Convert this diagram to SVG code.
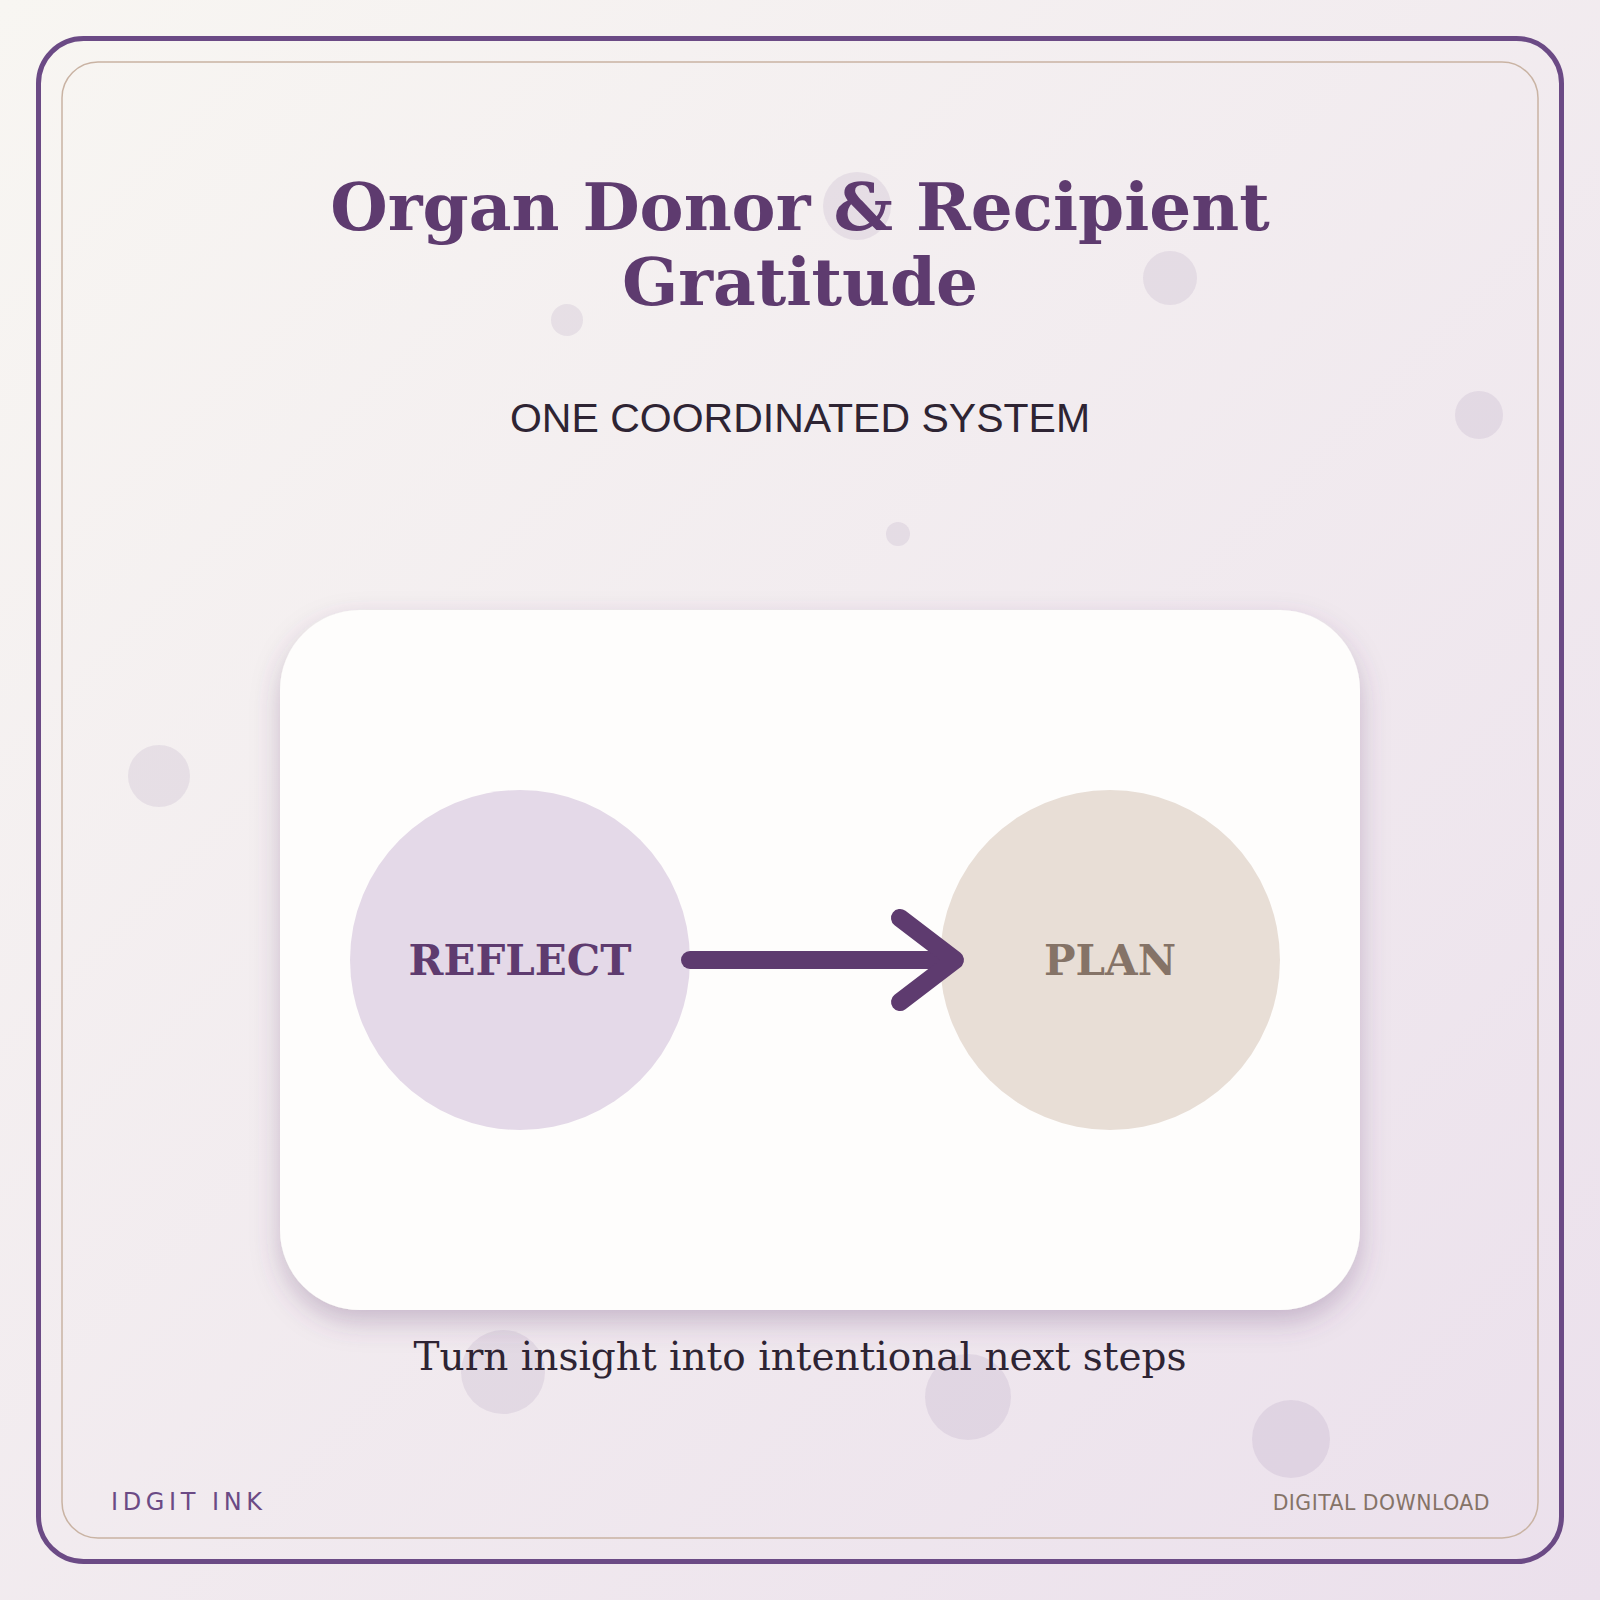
<svg xmlns="http://www.w3.org/2000/svg" width="1600" height="1600" viewBox="0 0 1600 1600">
  <defs>
    <linearGradient id="bg" x1="0" y1="0" x2="1" y2="1">
      <stop offset="0" stop-color="#f8f6f2"/>
      <stop offset="1" stop-color="#ebe0ec"/>
    </linearGradient>
    <filter id="shadow" x="-10%" y="-10%" width="120%" height="130%">
      <feDropShadow dx="0" dy="12" stdDeviation="14" flood-color="#5e3b6f" flood-opacity="0.28"/>
    </filter>
    <style>
      .dot { fill: #6b4a85; fill-opacity: 0.1; }
      .title { font-family: "DejaVu Serif", serif; font-weight: bold; font-size: 66px; fill: #5e3b6f; text-anchor: middle; }
      .sub { font-family: "Liberation Sans", Arial, sans-serif; font-size: 41px; fill: #2e2433; text-anchor: middle; }
      .node-label { font-family: "DejaVu Serif", serif; font-weight: bold; font-size: 42px; text-anchor: middle; }
      .caption { font-family: "DejaVu Serif", serif; font-size: 39px; fill: #2e2433; text-anchor: middle; }
      .foot { font-family: "DejaVu Sans", sans-serif; }
    </style>
  </defs>

  <rect x="0" y="0" width="1600" height="1600" fill="url(#bg)"/>

  <g id="decor">
    <circle class="dot" cx="857" cy="206" r="34"/>
    <circle class="dot" cx="1170" cy="278" r="27"/>
    <circle class="dot" cx="567" cy="320" r="16"/>
    <circle class="dot" cx="1479" cy="415" r="24"/>
    <circle class="dot" cx="898" cy="534" r="12"/>
    <circle class="dot" cx="159" cy="776" r="31"/>
    <circle class="dot" cx="503" cy="1372" r="42"/>
    <circle class="dot" cx="968" cy="1397" r="43"/>
    <circle class="dot" cx="1291" cy="1439" r="39"/>
  </g>

  <g id="frame">
    <rect x="38.5" y="38.5" width="1523" height="1523" rx="45" fill="none" stroke="#6b4a85" stroke-width="5"/>
    <rect x="62" y="62" width="1476" height="1476" rx="36" fill="none" stroke="#c9b3a3" stroke-width="1.5"/>
  </g>

  <g id="title">
    <text class="title" x="800" y="230">Organ Donor &amp; Recipient</text>
    <text class="title" x="800" y="305">Gratitude</text>
    <text class="sub" x="800" y="432">ONE COORDINATED SYSTEM</text>
  </g>

  <g id="card">
    <rect x="280" y="610" width="1080" height="700" rx="80" fill="#fefdfc" filter="url(#shadow)"/>
  </g>

  <g id="node-reflect">
    <circle cx="520" cy="960" r="170" fill="#e4d9e8"/>
    <text class="node-label" x="520" y="975" fill="#5e3b6f">REFLECT</text>
  </g>

  <g id="node-plan">
    <circle cx="1110" cy="960" r="170" fill="#e8ded6"/>
    <text class="node-label" x="1110" y="975" fill="#857367">PLAN</text>
  </g>

  <g id="connectors" fill="none" stroke="#5e3b6f" stroke-width="18" stroke-linecap="round" stroke-linejoin="round">
    <line x1="690" y1="960" x2="953" y2="960"/>
    <polyline points="900,918 955,960 900,1002"/>
  </g>

  <text class="caption" x="800" y="1370">Turn insight into intentional next steps</text>

  <text class="foot" x="111" y="1510" font-size="24" letter-spacing="4.6" fill="#6b4a85">IDGIT INK</text>
  <text class="foot" x="1490" y="1510" font-size="20.4" letter-spacing="0.5" fill="#857367" text-anchor="end">DIGITAL DOWNLOAD</text>
</svg>
